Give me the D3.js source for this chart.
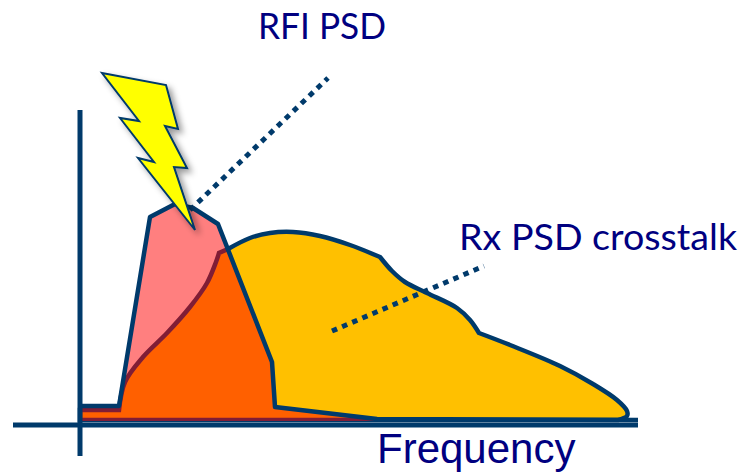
<!DOCTYPE html>
<html lang="en">
<head>
    <meta charset="UTF-8">
    <title>RFI PSD</title>
    <script src="https://cdn.jsdelivr.net/npm/d3@7"></script>
    <style>
        html, body { margin: 0; padding: 0; background: #fff; }
        svg { display: block; }
    </style>
</head>
<body>
<svg id="chart" width="741" height="472"></svg>
<script>
  var rxFreq = [0, 39, 45, 63, 87, 110, 127, 136, 139, 148, 170, 190, 213, 240, 270, 300, 312, 325, 347, 377, 390, 399, 430, 480, 513, 537, 547, 547, 538, 300, 0]
  var rxLevel = [14, 14, 42, 67, 91, 117, 141, 162, 171, 175, 186, 191, 192, 188, 179, 167, 153, 142, 131, 116, 104, 91, 79, 58, 40, 24, 13, 8, 4, 4, 4]
  // indexes where the Rx outline has a corner
  var rxCorners = [0, 1, 8, 9, 15, 21, 28, 29, 30]

  var rfiFreq = [0, 39, 70, 95, 113, 138, 192, 195, 297, 558, 558, 0]
  var rfiLevel = [18, 18, 207, 220, 216, 200, 62, 17, 5, 4, 3, 3]

  var boltFreq = [22, 86, 98, 85, 107, 94, 115, 58, 74, 40, 59]
  var boltLevel = [351, 339, 295, 298, 256, 257, 194, 266, 262, 306, 303]

  var rfiLeadFreq = [110, 248]
  var rfiLeadLevel = [214, 346]
  var rxLeadFreq = [252, 404]
  var rxLeadLevel = [93, 158]

  var navy = '#003a6b'

  var x = d3.scaleLinear().domain([0, 558]).range([80, 638])
  var y = d3.scaleLinear().domain([0, 424]).range([424, 0])

  var svg = d3.select('#chart')

  // shadow under the bolt
  svg.append('defs').append('filter')
    .attr('id', 'boltShadow')
    .attr('x', '-30%').attr('y', '-30%').attr('width', '170%').attr('height', '170%')
    .append('feDropShadow')
    .attr('dx', 4).attr('dy', 4).attr('stdDeviation', 3)
    .attr('flood-color', '#000').attr('flood-opacity', 0.4)

  var line = d3.line().x(function (d) { return x(d[0]) }).y(function (d) { return y(d[1]) })
  var smooth = d3.line().x(function (d) { return x(d[0]) }).y(function (d) { return y(d[1]) }).curve(d3.curveCatmullRom.alpha(0.5))

  // smooth between corners, joined into one outline
  var rxPoints = d3.zip(rxFreq, rxLevel)
  var rxPath = ''
  for (var i = 0; i < rxCorners.length - 1; i++) {
    var part = smooth(rxPoints.slice(rxCorners[i], rxCorners[i + 1] + 1))
    rxPath += i === 0 ? part : part.replace('M', 'L')
  }

  // Rx crosstalk goes first, the RFI is see through on top of it
  svg.append('path')
    .attr('d', rxPath + 'Z')
    .attr('fill', '#ffc000').attr('stroke', navy).attr('stroke-width', 4.5)

  // RFI fill, half red so the overlap turns orange and the outline under it maroon
  var rfiPoints = d3.zip(rfiFreq, rfiLevel)
  svg.append('path')
    .attr('d', line(rfiPoints) + 'Z')
    .attr('fill', '#ff0000').attr('fill-opacity', 0.5)

  // RFI outline stops where it meets the axis
  svg.append('path')
    .attr('d', line(rfiPoints.slice(0, 10)))
    .attr('fill', 'none').attr('stroke', navy).attr('stroke-width', 4.5).attr('stroke-linejoin', 'round')

  // axes
  svg.append('line').attr('x1', x(0)).attr('x2', x(0)).attr('y1', y(314)).attr('y2', y(-32))
    .attr('stroke', navy).attr('stroke-width', 5)
  svg.append('line').attr('x1', x(-67)).attr('x2', x(558)).attr('y1', y(-1)).attr('y2', y(-1))
    .attr('stroke', navy).attr('stroke-width', 5)

  // dotted leaders
  svg.selectAll('.leader')
    .data([d3.zip(rfiLeadFreq, rfiLeadLevel), d3.zip(rxLeadFreq, rxLeadLevel)])
    .enter().append('path')
    .attr('class', 'leader')
    .attr('d', line)
    .attr('fill', 'none').attr('stroke', navy).attr('stroke-width', 5).attr('stroke-dasharray', '5.5 5.5')

  // bolt
  svg.append('path')
    .attr('d', line(d3.zip(boltFreq, boltLevel)) + 'Z')
    .attr('fill', '#ffff00').attr('stroke', navy).attr('stroke-width', 2)
    .attr('filter', 'url(#boltShadow)')

  // labels, Lato stands in for the original font so the width is pinned
  svg.append('text').attr('x', 258).attr('y', 39).text('RFI PSD')
    .attr('font-family', 'Lato, sans-serif').attr('font-size', 36).attr('fill', '#000080')
    .attr('textLength', 128).attr('lengthAdjust', 'spacingAndGlyphs')
  svg.append('text').attr('x', 459).attr('y', 250).text('Rx PSD crosstalk')
    .attr('font-family', 'Lato, sans-serif').attr('font-size', 36).attr('fill', '#000080')
    .attr('textLength', 278).attr('lengthAdjust', 'spacingAndGlyphs')
  svg.append('text').attr('x', 377).attr('y', 463).text('Frequency')
    .attr('font-family', '"Liberation Sans", sans-serif').attr('font-size', 42).attr('fill', '#000080')
</script>
</body>
</html>
